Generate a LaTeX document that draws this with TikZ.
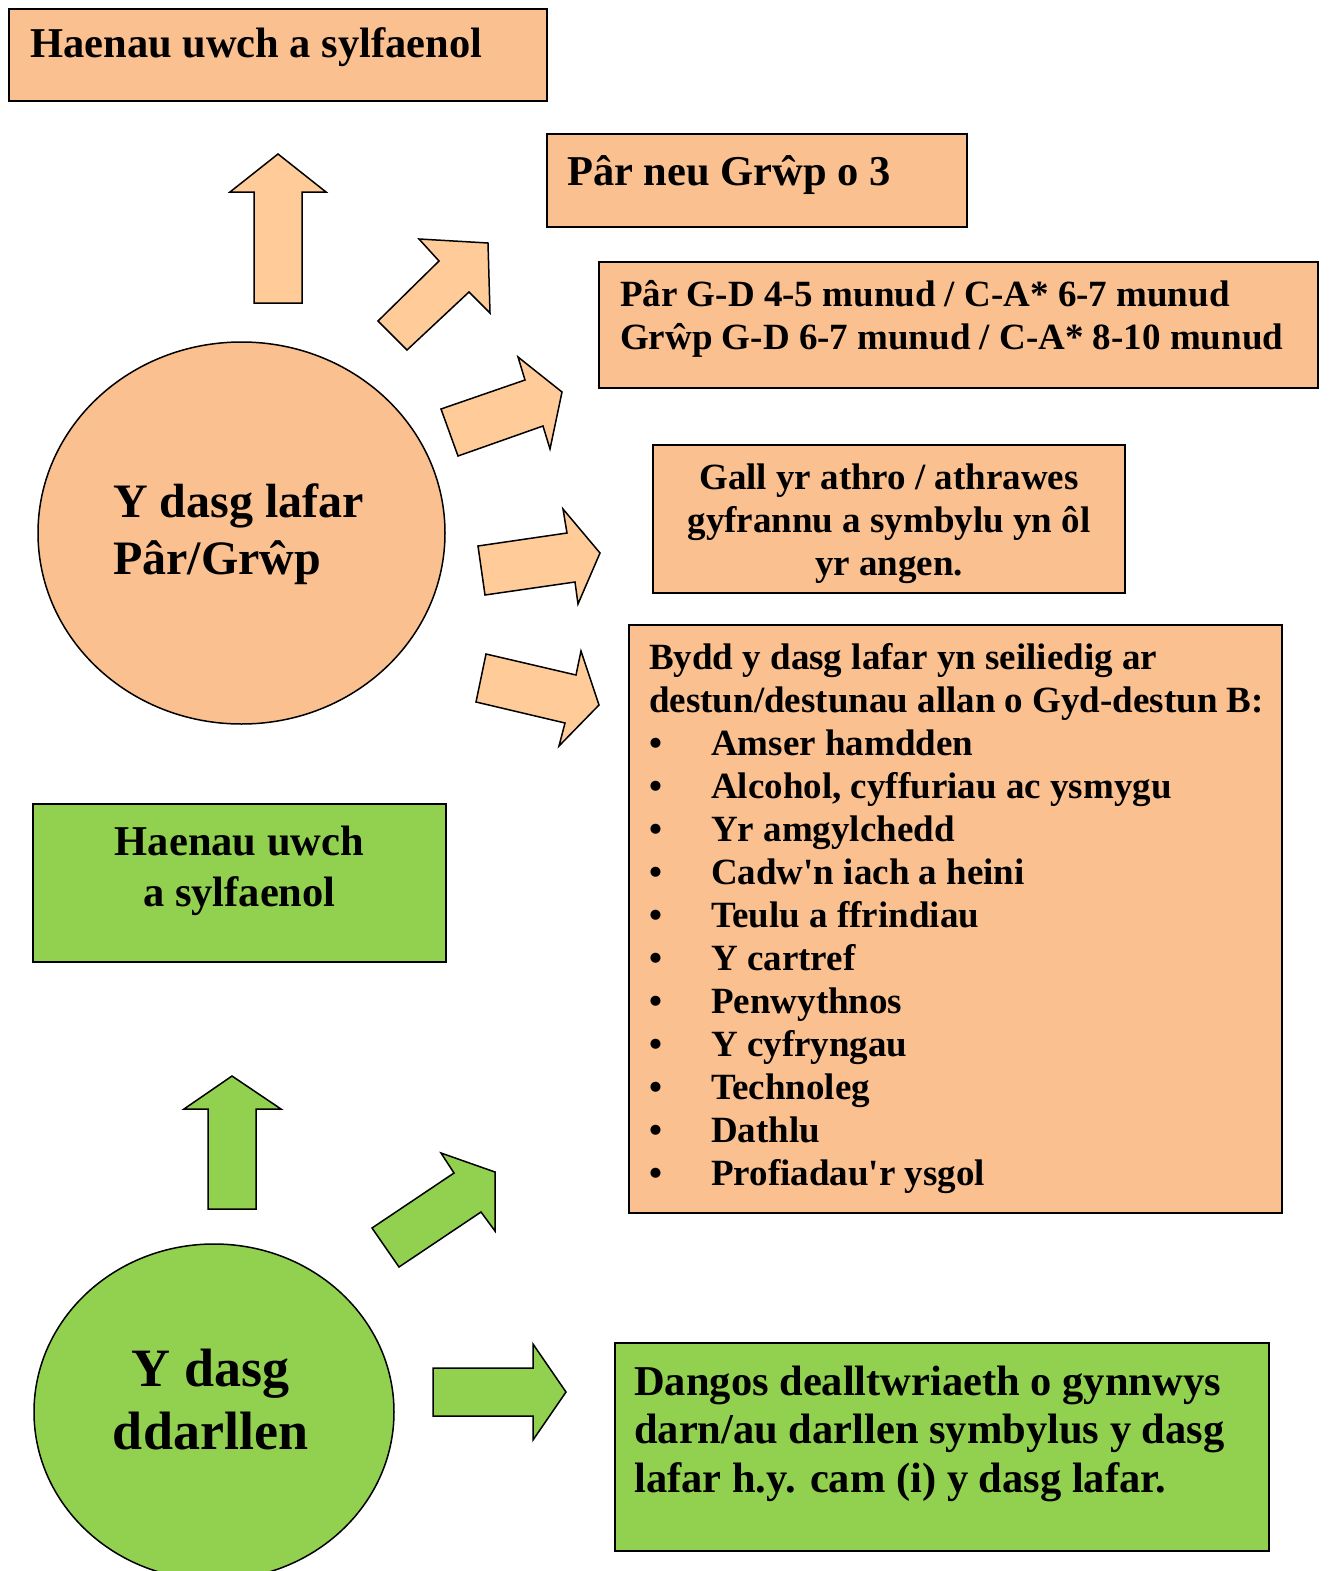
\documentclass[tikz,border=0pt]{standalone}
\usepackage{fontspec}
\setmainfont{Liberation Serif}
\usetikzlibrary{calc,shapes.geometric}
\definecolor{peach}{HTML}{FAC090}
\definecolor{peachlight}{HTML}{FFCC99}
\definecolor{leaf}{HTML}{92D050}

\begin{document}
\begin{tikzpicture}[x=1pt, y=-1pt,
        bigtxt/.style={inner sep=0, font=\fontsize{42.5}{48.5}\selectfont\bfseries},
        midtxt/.style={inner sep=0, font=\fontsize{37}{43}\selectfont\bfseries},
    ]
    \useasboundingbox (0,0) rectangle (1328,1571);
    \clip (0,0) rectangle (1328,1571);
    % boxes and circles
    \tikzstyle{obox}=[draw, line width=2pt, fill=peach, rectangle, inner sep=0]
    \tikzstyle{gbox}=[draw, line width=2pt, fill=leaf, rectangle, inner sep=0]
    \tikzstyle{ocirc}=[draw, line width=1.5pt, fill=peach, ellipse, inner sep=0]
    \tikzstyle{gcirc}=[draw, line width=1.5pt, fill=leaf, ellipse, inner sep=0]
    % block arrows
    \tikzstyle{oarr}=[draw, line width=1.5pt, fill=peachlight]
    \tikzstyle{garr}=[draw, line width=1.5pt, fill=leaf]

    \node[obox, minimum width=538pt, minimum height=92pt] (bTop) at (278,55) {};
    \node[obox, minimum width=420pt, minimum height=93pt] (bPair) at (757,180.5) {};
    \node[obox, minimum width=719pt, minimum height=126pt] (bTime) at (958.5,325) {};
    \node[obox, minimum width=472pt, minimum height=148pt] (bTeach) at (889,519) {};
    \node[obox, minimum width=653pt, minimum height=588pt] (bTopics) at (955.5,919) {};
    \node[gbox, minimum width=413pt, minimum height=158pt] (bHaenG) at (239.5,883) {};
    \node[gbox, minimum width=654pt, minimum height=208pt] (bRead) at (942,1447) {};
    \node[ocirc, minimum width=407pt, minimum height=382pt] (cLafar) at (241.5,533) {};
    \node[gcirc, minimum width=360pt, minimum height=336pt] (cRead) at (214,1412) {};

    % texts (base = baseline of the last line)
    \node[bigtxt, anchor=base west] (tTop) at ($(bTop.north west)+(22,50)$) {Haenau uwch a sylfaenol};
    \node[bigtxt, anchor=base west] (tPair) at ($(bPair.north west)+(21,52)$) {Pâr neu Grŵp o 3};
    \node[midtxt, anchor=base west, align=left] (tTime) at ($(bTime.north west)+(22,88)$)
        {Pâr G-D 4-5 munud / C-A* 6-7 munud\\Grŵp G-D 6-7 munud / C-A* 8-10 munud};
    \node[midtxt, anchor=base, align=center] (tTeach) at ($(bTeach.north)+(0,131)$)
        {Gall yr athro / athrawes\\gyfrannu a symbylu yn ôl\\yr angen.};
    \node[midtxt, anchor=base west, align=left] (tTopics) at ($(bTopics.north west)+(21,561)$)
        {Bydd y dasg lafar yn seiliedig ar\\
         destun/destunau allan o Gyd-destun B:\\
         \makebox[62pt][l]{\textbullet}Amser hamdden\\
         \makebox[62pt][l]{\textbullet}Alcohol, cyffuriau ac ysmygu\\
         \makebox[62pt][l]{\textbullet}Yr amgylchedd\\
         \makebox[62pt][l]{\textbullet}Cadw\textquotesingle n iach a heini\\
         \makebox[62pt][l]{\textbullet}Teulu a ffrindiau\\
         \makebox[62pt][l]{\textbullet}Y cartref\\
         \makebox[62pt][l]{\textbullet}Penwythnos\\
         \makebox[62pt][l]{\textbullet}Y cyfryngau\\
         \makebox[62pt][l]{\textbullet}Technoleg\\
         \makebox[62pt][l]{\textbullet}Dathlu\\
         \makebox[62pt][l]{\textbullet}Profiadau\textquotesingle r ysgol};
    \node[bigtxt, font=\fontsize{42.5}{51}\selectfont\bfseries, anchor=base, align=center] (tHaenG)
        at ($(bHaenG.north)+(0,103)$) {Haenau uwch\\a sylfaenol};
    \node[bigtxt, anchor=base west, align=left] (tRead) at ($(bRead.north west)+(20,150)$)
        {Dangos dealltwriaeth o gynnwys\\darn/au darllen symbylus y dasg\\lafar h.y. cam (i) y dasg lafar.};
    \node[inner sep=0, font=\fontsize{48}{57}\selectfont\bfseries, anchor=base west, align=left] (tLafar)
        at ($(cLafar)+(-128.5,41)$) {Y dasg lafar\\Pâr/Grŵp};
    \node[inner sep=0, font=\fontsize{54}{63}\selectfont\bfseries, anchor=base, align=center] (tReadC)
        at ($(cRead)+(-3.5,37)$) {Y dasg\\ddarllen};

    % orange arrows
    \draw[oarr] (254,303) -- (254,192) -- (230,192) -- (278,154) -- (326,192) -- (302,192) -- (302,303) -- cycle;
    \draw[oarr] (378,321) -- (439,261) -- (419,239) -- (488,243) -- (490,313) -- (469,292) -- (407,350) -- cycle;
    \draw[oarr] (441,409) -- (525,380) -- (518,357) -- (562,392) -- (550,449) -- (543,426) -- (458,456) -- cycle;
    \draw[oarr] (478,546) -- (567,533) -- (563,509) -- (600,553) -- (578,604) -- (575,582) -- (485,595) -- cycle;
    \draw[oarr] (486,654) -- (576,675) -- (581,651) -- (599,705) -- (559,746) -- (565,723) -- (476,702) -- cycle;
    % green arrows
    \draw[garr] (208,1209) -- (208,1109) -- (184,1109) -- (232,1076) -- (281,1109) -- (256,1109) -- (256,1209) -- cycle;
    \draw[garr] (372,1228) -- (454,1173) -- (441,1153) -- (495,1172) -- (495,1231) -- (481,1212) -- (399,1267) -- cycle;
    \draw[garr] (433,1368) -- (533,1368) -- (533,1344) -- (566,1392) -- (533,1440) -- (533,1416) -- (433,1416) -- cycle;
\end{tikzpicture}
\end{document}
